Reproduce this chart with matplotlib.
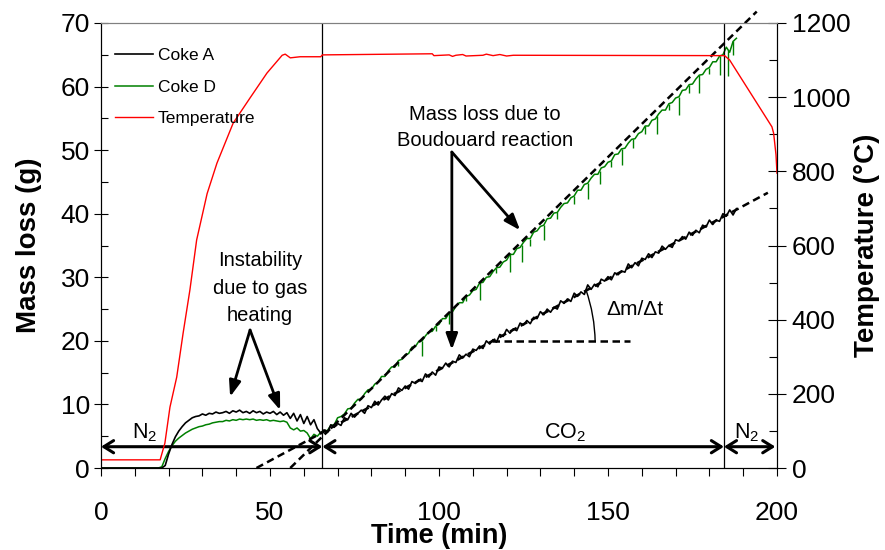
import numpy as np
import matplotlib.pyplot as plt

plt.rcParams['font.family'] = ['Liberation Sans', 'DejaVu Sans']
plt.rcParams['mathtext.fontset'] = 'custom'
plt.rcParams['mathtext.rm'] = 'Liberation Sans'
plt.rcParams['mathtext.it'] = 'Liberation Sans:italic'

# --- data ---
# sample grid of the balance (1 min), 0 is the start of the run
time_min = [0] + list(range(17, 189))

# Coke A mass loss (g)
mass_a = [0.0,
          0.0, 0.0, 0.4, 2.2, 3.7, 4.9, 5.8, 6.5, 7.1, 7.5,
          7.9, 8.1, 8.2, 8.5, 8.3, 8.6, 8.5, 8.8, 8.6, 8.7,
          8.9, 8.6, 9.0, 8.8, 9.1, 8.7, 8.9, 8.6, 9.0, 8.7,
          8.9, 8.5, 8.8, 8.6, 8.9, 8.4, 8.8, 8.3, 8.7, 7.8,
          8.6, 7.4, 8.4, 7.0, 8.1, 6.8, 7.6, 6.2, 5.5, 6.0,
          5.6, 6.8, 6.4, 7.0, 6.7, 7.9, 7.6, 8.6, 8.0, 8.6,
          9.1, 8.6, 9.8, 9.5, 10.5, 9.9, 10.7, 11.3, 10.7, 11.7,
          11.4, 12.6, 12.2, 12.9, 12.4, 13.6, 13.3, 13.9, 13.6, 14.8,
          14.3, 15.1, 14.6, 15.9, 15.7, 16.5, 15.9, 16.8, 16.6, 17.8,
          17.3, 17.9, 17.5, 18.7, 18.5, 19.2, 18.8, 20.0, 19.5, 20.2,
          19.8, 21.0, 20.7, 21.8, 21.2, 21.9, 21.6, 22.8, 22.5, 23.2,
          22.7, 23.7, 23.5, 24.6, 24.1, 25.0, 24.5, 25.3, 25.0, 26.3,
          25.9, 26.6, 26.2, 27.5, 27.0, 27.7, 27.3, 28.8, 28.1, 28.9,
          28.5, 29.7, 29.4, 30.1, 29.6, 30.7, 30.4, 31.0, 30.8, 32.1,
          31.5, 32.3, 31.8, 33.0, 32.8, 33.7, 33.1, 34.0, 33.8, 34.9,
          34.4, 35.0, 34.7, 35.9, 35.7, 36.4, 36.0, 37.1, 36.6, 37.4,
          37.0, 38.2, 37.9, 39.0, 38.3, 39.0, 38.8, 40.0, 39.6, 40.6,
          39.8, 40.8]

# Coke D mass loss (g)
mass_d = [0.0,
          0.0, 0.2, 1.5, 2.6, 3.5, 4.2, 4.7, 5.1, 5.5, 5.8,
          6.1, 6.3, 6.5, 6.6, 6.8, 6.9, 7.1, 7.2, 7.3, 7.3,
          7.5, 7.4, 7.6, 7.5, 7.7, 7.6, 7.7, 7.6, 7.7, 7.5,
          7.6, 7.5, 7.6, 7.4, 7.5, 7.4, 7.3, 7.4, 7.2, 6.3,
          6.0, 6.3, 5.8, 5.9, 5.5, 4.6, 5.3, 5.0, 5.6, 5.8,
          5.9, 6.7, 6.8, 7.9, 8.1, 8.5, 9.3, 9.4, 10.2, 10.8,
          10.8, 11.7, 12.3, 12.4, 13.2, 13.5, 14.4, 14.4, 15.3, 15.9,
          15.9, 16.9, 17.1, 17.8, 18.0, 19.0, 19.1, 19.9, 20.0, 20.8,
          21.4, 21.5, 22.3, 22.6, 23.5, 23.5, 24.4, 24.6, 25.4, 26.0,
          26.0, 27.0, 27.2, 27.9, 28.1, 29.1, 29.2, 30.0, 30.1, 30.9,
          31.5, 31.6, 32.4, 32.7, 33.6, 33.6, 34.5, 34.7, 35.5, 36.1,
          36.1, 37.1, 37.3, 38.0, 38.2, 39.2, 39.3, 40.1, 40.2, 41.0,
          41.6, 41.7, 42.5, 42.8, 43.7, 43.7, 44.6, 44.8, 45.6, 46.2,
          46.2, 47.2, 47.4, 48.1, 48.3, 49.3, 49.4, 50.2, 50.3, 51.1,
          51.7, 51.8, 52.6, 52.9, 53.8, 53.8, 54.7, 54.9, 55.7, 56.3,
          56.3, 57.3, 57.5, 58.2, 58.4, 59.4, 59.5, 60.3, 60.4, 61.2,
          61.8, 61.9, 62.7, 63.0, 63.9, 63.9, 64.8, 65.0, 66.2, 65.4,
          67.1, 67.6]

# short downward spikes in the Coke D signal
spike_t = [88, 95, 99, 103, 108, 112, 117, 121, 124.5, 127, 131, 135, 140, 144,
           147.5, 151, 154, 157.5, 161, 164.5, 168, 171, 174, 177, 180, 183, 185.5, 187]
spike_top = [16.9, 20.0, 22.3, 24.4, 27.0, 29.1, 31.5, 33.6, 35.1, 36.1, 38.2, 40.2, 42.8, 44.8,
             46.7, 48.3, 50.2, 51.8, 53.8, 55.3, 57.3, 58.4, 60.3, 61.8, 63.0, 64.8, 65.8, 67.1]
spike_bot = [16.0, 17.6, 21.5, 22.6, 26.2, 26.5, 30.6, 30.8, 32.4, 34.9, 35.8, 39.2, 41.6, 42.3,
             44.6, 47.4, 47.6, 50.3, 52.5, 52.6, 56.3, 55.6, 59.0, 59.0, 61.9, 61.8, 61.6, 65.0]

# furnace temperature (deg C)
temp_t = [0, 17.5, 18.9, 20.4, 22.4, 24.3, 26.3, 28.3, 31.4, 34.3,
          39.1, 44.1, 49.1, 53.6, 54.5, 56.0, 58.9, 65.0, 65.5, 98.0,
          98.5, 103, 104, 105, 107, 108, 113, 114, 116, 118,
          120, 122, 184.5, 186.0, 198.5, 199.0, 199.7, 200.0]
temp_c = [22, 22, 67, 164, 245, 364, 480, 615, 740, 822,
          930, 998, 1065, 1113, 1116, 1106, 1109, 1109, 1114, 1117,
          1112, 1114, 1110, 1113, 1115, 1111, 1113, 1116, 1112, 1115,
          1111, 1113, 1112, 1100, 920, 903, 845, 795]

# linear fits (end points) and gas switch times
fit_a_t, fit_a_y = [46.0, 197.3], [0.0, 43.3]
fit_d_t, fit_d_y = [56.0, 194.0], [0.0, 71.8]
slope_ref_t, slope_ref_y = [115.6, 156.5], [19.9, 19.9]
switch_t = [65.5, 184.3]
gas_segments = [(0, 65.5, 'N$_2$', 13), (65.5, 184.3, 'CO$_2$', 137.3), (184.3, 199.5, 'N$_2$', 191)]

# --- figure ---
fig = plt.figure(figsize=(8.85, 5.5), dpi=100)
ax = fig.add_axes([101/885, 1-468/550, 676/885, 445/550])
ax2 = ax.twinx()

la, = ax.plot(time_min, mass_a, color='black', lw=1.2, label='Coke A', zorder=3)
ld, = ax.plot(time_min, mass_d, color='#008000', lw=1.1, label='Coke D', zorder=2)
ax.vlines(spike_t, spike_bot, spike_top, color='#008000', lw=1.0, zorder=2)
lt, = ax2.plot(temp_t, temp_c, color='red', lw=1.0, label='Temperature')

dash = (0, (3, 1.8))
ax.plot(fit_a_t, fit_a_y, color='black', lw=1.8, ls=dash, clip_on=False, zorder=4)
ax.plot(fit_d_t, fit_d_y, color='black', lw=1.8, ls=dash, clip_on=False, zorder=4)
ax.plot(slope_ref_t, slope_ref_y, color='black', lw=1.8, ls=dash, zorder=4)
ax.annotate('', xy=(146.2, 19.9), xytext=(143.5, 28.0),
            arrowprops=dict(arrowstyle='-', lw=1.0, shrinkA=0, shrinkB=0,
                            connectionstyle='arc3,rad=-0.08'))
ax.text(149.5, 24.9, 'Δm/Δt', fontsize=15, ha='left', va='center')

for t in switch_t:
    ax.axvline(t, color='black', lw=0.9)

# gas atmosphere arrows
for x0, x1, lab, xl in gas_segments:
    ax.annotate('', xy=(x1, 3.35), xytext=(x0, 3.35),
                arrowprops=dict(arrowstyle='<->,head_length=0.35,head_width=0.22',
                                lw=2.2, color='black', shrinkA=0, shrinkB=0,
                                mutation_scale=20))
    ax.text(xl, 5.6, lab, fontsize=15.5, ha='center', va='center')

# comments with arrows
arrow_kw = dict(arrowstyle='-|>,head_length=0.6,head_width=0.22', lw=2.0,
                color='black', shrinkA=0, shrinkB=0, mutation_scale=16)
ax.text(47.0, 28.3, 'Instability\ndue to gas\nheating', fontsize=14.5,
        ha='center', va='center', linespacing=1.55)
for head in [(38.2, 11.2), (53.0, 9.1)]:
    ax.annotate('', xy=head, xytext=(44.1, 21.7), arrowprops=arrow_kw)

ax.text(113.6, 53.6, 'Mass loss due to\nBoudouard reaction', fontsize=14.5,
        ha='center', va='center', linespacing=1.5)
for head in [(124.0, 37.4), (103.8, 18.6)]:
    ax.annotate('', xy=head, xytext=(103.8, 49.7), arrowprops=arrow_kw)

# axes
ax.set_xlim(0, 200)
ax.set_ylim(0, 70)
ax2.set_ylim(0, 1200)
ax.set_xticks(range(0, 201, 50))
ax.set_xticks(range(0, 201, 10), minor=True)
ax.set_yticks(range(0, 71, 10))
ax.set_yticks(range(0, 71, 5), minor=True)
ax2.set_yticks(range(0, 1201, 200))
ax2.set_yticks(range(0, 1201, 100), minor=True)

ax.tick_params(axis='x', which='both', direction='out', length=6, width=0.8,
               labelsize=19, pad=18)
ax.tick_params(axis='y', which='major', direction='inout', length=10, width=0.8,
               labelsize=19, pad=3)
ax.tick_params(axis='y', which='minor', direction='in', length=5, width=0.8)
ax2.tick_params(axis='y', which='major', direction='inout', length=13, width=0.8,
                labelsize=19, pad=4)
ax2.tick_params(axis='y', which='minor', direction='in', length=6, width=0.8)

for a in (ax, ax2):
    a.spines['top'].set_color('#808080')

ax.set_xlabel('Time (min)', fontsize=19.5, fontweight='bold')
ax.xaxis.set_label_coords(0.5, -0.124)
ax.set_ylabel('Mass loss (g)', fontsize=20, fontweight='bold')
ax.yaxis.set_label_coords(-0.088, 0.5)
ax2.set_ylabel('Temperature (°C)', fontsize=20, fontweight='bold')
ax2.yaxis.set_label_coords(1.114, 0.5)

ax2.legend([la, ld, lt], ['Coke A', 'Coke D', 'Temperature'], loc='upper left',
           bbox_to_anchor=(0.02, 0.944), frameon=False, fontsize=12.5,
           handlelength=2.2, handletextpad=0.3, labelspacing=0.95,
           borderpad=0, borderaxespad=0)

fig.savefig('out.png', dpi=100)
